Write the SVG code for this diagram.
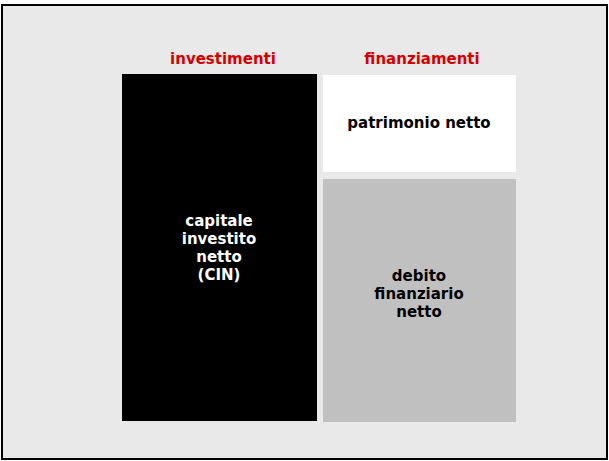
<svg xmlns="http://www.w3.org/2000/svg" width="609" height="461" viewBox="0 0 609 461">
<style>
.t{font-family:"DejaVu Sans",Verdana,sans-serif;font-weight:bold;font-size:15px;text-anchor:middle}
.h{fill:#d40000;font-size:15px}
.w{fill:#ffffff}
.k{fill:#000000}
</style>
<rect x="0" y="0" width="609" height="461" fill="#ffffff"/>
<rect x="2" y="5" width="605" height="454" fill="#e9e9e9" stroke="#000" stroke-width="2"/>
<text class="t h" x="223" y="64">investimenti</text>
<text class="t h" x="422" y="64">finanziamenti</text>
<g id="cin">
<rect x="122" y="74" width="195" height="347" fill="#000"/>
<text class="t w" x="219" y="226">capitale</text>
<text class="t w" x="219" y="244">investito</text>
<text class="t w" x="219" y="262">netto</text>
<text class="t w" x="219" y="280">(CIN)</text>
</g>
<g id="pn">
<rect x="323" y="75" width="193" height="97" fill="#fff"/>
<text class="t k" x="419" y="128">patrimonio netto</text>
</g>
<g id="dfn">
<rect x="323" y="179" width="193" height="243" fill="#c0c0c0"/>
<text class="t k" x="419" y="281">debito</text>
<text class="t k" x="419" y="299">finanziario</text>
<text class="t k" x="419" y="317">netto</text>
</g>
<g id="connectors"></g>
</svg>
